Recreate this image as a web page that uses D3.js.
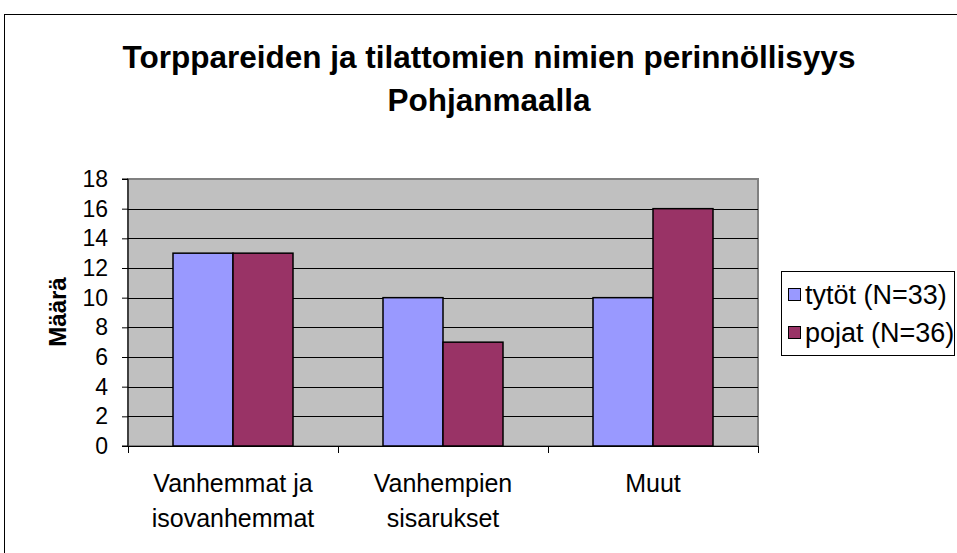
<!DOCTYPE html>
<html>
<head>
<meta charset="utf-8">
<script src="https://cdn.jsdelivr.net/npm/d3@7"></script>
<style>
  body { margin: 0; background: #fff; }
  text { font-family: "Liberation Sans", Arial, sans-serif; }
</style>
</head>
<body>
<div id="chart"></div>
<script>
// data
var categories = [["Vanhemmat ja", "isovanhemmat"], ["Vanhempien", "sisarukset"], ["Muut"]];
var seriesNames = ["tytöt (N=33)", "pojat (N=36)"];
var tytot = [13, 10, 10];
var pojat = [13, 7, 16];
var yTicks = [0, 2, 4, 6, 8, 10, 12, 14, 16, 18];
var colors = ["#9999FF", "#993366"];

var svgWidth = 957;
var svgHeight = 553;

var margin = { top: 179, left: 128 };
var width = 630;
var height = 267;

var svg = d3.select("#chart")
  .append("svg")
  .attr("width", svgWidth)
  .attr("height", svgHeight);

// outer chart border
svg.append("rect")
  .attr("x", 4.5).attr("y", 14.5)
  .attr("width", 980).attr("height", 600)
  .attr("fill", "#fff")
  .attr("stroke", "#000")
  .attr("stroke-width", 1);

// title
svg.append("text")
  .attr("x", 489).attr("y", 68)
  .attr("text-anchor", "middle")
  .attr("font-weight", "bold")
  .attr("font-size", "31.5px")
  .text("Torppareiden ja tilattomien nimien perinnöllisyys");
svg.append("text")
  .attr("x", 489).attr("y", 111)
  .attr("text-anchor", "middle")
  .attr("font-weight", "bold")
  .attr("font-size", "31.5px")
  .text("Pohjanmaalla");

var chartGroup = svg.append("g")
  .attr("transform", `translate(${margin.left}, ${margin.top})`);

var x0 = d3.scaleBand()
  .domain(d3.range(categories.length))
  .range([0, width])
  .paddingInner(0)
  .paddingOuter(0);

var x1 = d3.scaleBand()
  .domain([0, 1])
  .range([0, x0.bandwidth()])
  .paddingOuter(0.75)
  .paddingInner(0);

var y = d3.scaleLinear()
  .domain([0, 18])
  .range([height, 0]);

// plot background
chartGroup.append("rect")
  .attr("x", 0).attr("y", 0)
  .attr("width", width).attr("height", height)
  .attr("fill", "#C0C0C0")
  .attr("stroke", "#808080")
  .attr("stroke-width", 2);

// gridlines
chartGroup.selectAll(".grid")
  .data(yTicks.filter(d => d > 0 && d < 18))
  .enter()
  .append("line")
  .attr("x1", 0).attr("x2", width)
  .attr("y1", d => Math.round(y(d)) + 0.5)
  .attr("y2", d => Math.round(y(d)) + 0.5)
  .attr("stroke", "#000")
  .attr("stroke-width", 1);

// bars
var series = [tytot, pojat];
series.forEach(function(vals, s) {
  chartGroup.selectAll(".bar" + s)
    .data(vals)
    .enter()
    .append("rect")
    .attr("x", (d, i) => x0(i) + x1(s))
    .attr("y", d => y(d))
    .attr("width", x1.bandwidth())
    .attr("height", d => height - y(d))
    .attr("fill", colors[s])
    .attr("stroke", "#000")
    .attr("stroke-width", 1.5);
});

// y axis
var leftAxis = d3.axisLeft(y)
  .tickValues(yTicks)
  .tickSize(6)
  .tickPadding(14);
var yAxis = chartGroup.append("g").call(leftAxis);
yAxis.select(".domain").attr("stroke", "#000").attr("d", `M-6,${height}H0V0H-6`);
yAxis.selectAll("text")
  .attr("font-size", "23px")
  .attr("font-family", "'Liberation Sans', Arial, sans-serif")
  .attr("fill", "#000");
yAxis.selectAll(".tick line").attr("stroke", "#000");

// x axis
var xAxis = chartGroup.append("g")
  .attr("transform", `translate(0, ${height})`);
xAxis.append("line")
  .attr("x1", -6).attr("x2", width)
  .attr("y1", 0.5).attr("y2", 0.5)
  .attr("stroke", "#000");
xAxis.selectAll(".xtick")
  .data(d3.range(categories.length + 1))
  .enter()
  .append("line")
  .attr("x1", d => d * x0.bandwidth() + 0.5)
  .attr("x2", d => d * x0.bandwidth() + 0.5)
  .attr("y1", 0).attr("y2", 7)
  .attr("stroke", "#000");

xAxis.selectAll(".xlabel")
  .data(categories)
  .enter()
  .append("text")
  .attr("text-anchor", "middle")
  .attr("font-size", "25px")
  .attr("x", (d, i) => x0(i) + x0.bandwidth() / 2)
  .attr("y", 46)
  .each(function(d) {
    var t = d3.select(this);
    d.forEach(function(line, j) {
      t.append("tspan")
        .attr("x", t.attr("x"))
        .attr("dy", j === 0 ? 0 : 35)
        .text(line);
    });
  });

// y axis title
svg.append("text")
  .attr("transform", "translate(66, 312) rotate(-90)")
  .attr("text-anchor", "middle")
  .attr("font-weight", "bold")
  .attr("font-size", "24px")
  .text("Määrä");

// legend
var legend = svg.append("g").attr("transform", "translate(781, 271)");
legend.append("rect")
  .attr("x", 0.5).attr("y", 0.5)
  .attr("width", 173).attr("height", 84)
  .attr("fill", "#fff")
  .attr("stroke", "#000");
seriesNames.forEach(function(name, i) {
  legend.append("rect")
    .attr("x", 7.5).attr("y", 17.5 + i * 38)
    .attr("width", 12).attr("height", 12)
    .attr("fill", colors[i])
    .attr("stroke", "#000");
  legend.append("text")
    .attr("x", 24).attr("y", 33 + i * 38)
    .attr("font-size", "27px")
    .text(name);
});
</script>
</body>
</html>
